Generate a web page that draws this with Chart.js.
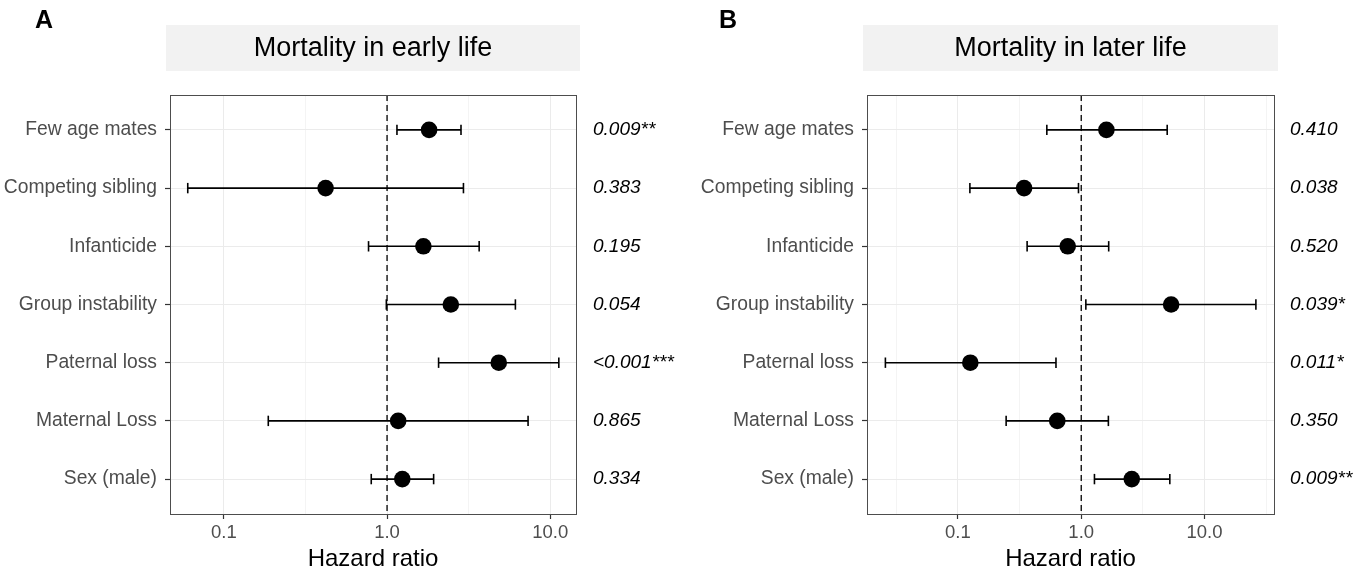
<!DOCTYPE html>
<html>
<head>
<meta charset="utf-8">
<script src="https://cdn.jsdelivr.net/npm/chart.js@4.4.1/dist/chart.umd.min.js"></script>
<style>
  html, body { margin: 0; padding: 0; background: #fff; }
  .panel { position: absolute; top: 0; width: 684px; height: 574px; }
</style>
</head>
<body>
<div class="panel" style="left:0"><canvas id="c-early" width="684" height="574"></canvas></div>
<div class="panel" style="left:684px"><canvas id="c-later" width="684" height="574"></canvas></div>
<script>
// forest plots — hazard ratios with 95% CI, log x axis

var CATS = ["Few age mates", "Competing sibling", "Infanticide", "Group instability",
            "Paternal loss", "Maternal Loss", "Sex (male)"];

var EARLY_HR = [1.81, 0.42,  1.67, 2.46, 4.84, 1.17,  1.24];
var EARLY_LO = [1.15, 0.060, 0.77, 0.99, 2.07, 0.187, 0.80];
var EARLY_HI = [2.84, 2.94,  3.67, 6.12, 11.3, 7.32,  1.93];
var EARLY_P  = ["0.009**", "0.383", "0.195", "0.054", "<0.001***", "0.865", "0.334"];

var LATER_HR = [1.60, 0.344, 0.777, 5.36, 0.126,  0.639, 2.57];
var LATER_LO = [0.526, 0.125, 0.364, 1.09, 0.0258, 0.246, 1.28];
var LATER_HI = [4.98, 0.95,  1.67,  26.1, 0.624,  1.66,  5.23];
var LATER_P  = ["0.410", "0.038", "0.520", "0.039*", "0.011*", "0.350", "0.009**"];

var X_MAJOR = [0.1, 1, 10];
var X_MINOR = [0.0316, 0.316, 3.16, 31.6];
var REF_HR = 1;

var FONT = "'Liberation Sans', Arial, Helvetica, sans-serif";

// ── decorations: strip header, panel letter, border, p-values ─────────────
var panelDeco = {
  id: "panelDeco",
  beforeDraw: function(chart) {
    var o = chart.options.plugins.panelDeco, a = chart.chartArea, ctx = chart.ctx;
    ctx.save();
    ctx.fillStyle = "#fff";
    ctx.fillRect(0, 0, chart.width, chart.height);
    ctx.fillStyle = "#f2f2f2";
    ctx.fillRect(a.left - 4, 25, a.right - a.left + 8, 46);
    ctx.fillStyle = "#000";
    ctx.font = "27px " + FONT;
    ctx.textAlign = "center"; ctx.textBaseline = "middle";
    ctx.fillText(o.title, (a.left + a.right) / 2, 49);
    ctx.font = "bold 25px " + FONT;
    ctx.textAlign = "left";
    ctx.fillText(o.letter, 35, 21);
    ctx.restore();
  },
  afterDraw: function(chart) {
    var o = chart.options.plugins.panelDeco, a = chart.chartArea, ctx = chart.ctx;
    var ys = chart.scales.y;
    ctx.save();
    ctx.strokeStyle = "#4d4d4d"; ctx.lineWidth = 1;
    ctx.strokeRect(Math.round(a.left) + 0.5, Math.round(a.top) + 0.5,
                   Math.round(a.right - a.left), Math.round(a.bottom - a.top));
    ctx.fillStyle = "#000";
    ctx.font = "italic 19px " + FONT;
    ctx.textAlign = "left"; ctx.textBaseline = "middle";
    o.pvals.forEach(function(p, i) {
      ctx.fillText(p, a.right + o.pGap, ys.getPixelForValue(i + 1));
    });
    ctx.restore();
  }
};

function makeForest(canvasId, opt) {
  var datasets = [];
  datasets.push({
    type: "scatter", order: 0,
    data: opt.hr.map(function(v, i) { return { x: v, y: i + 1 }; }),
    pointRadius: 8.3, pointBackgroundColor: "#000", pointBorderWidth: 0
  });
  opt.hr.forEach(function(v, i) {
    datasets.push({
      type: "line", order: 1, showLine: true,
      data: [{ x: opt.lo[i], y: i + 1 }, { x: opt.hi[i], y: i + 1 }],
      borderColor: "#000", borderWidth: 1.6,
      pointStyle: "line", pointRotation: 90, pointRadius: 5.2,
      pointBorderColor: "#000", pointBorderWidth: 1.6
    });
  });
  datasets.push({
    type: "line", order: 2, showLine: true,
    data: [{ x: REF_HR, y: 0.4 }, { x: REF_HR, y: 7.6 }],
    borderColor: "#000", borderWidth: 1.3, borderDash: [6, 4], pointRadius: 0
  });

  var ticks = X_MAJOR.map(function(v) { return { value: v, mj: true }; })
    .concat(X_MINOR.map(function(v) { return { value: v, mj: false }; }))
    .sort(function(a, b) { return a.value - b.value; });

  return new Chart(document.getElementById(canvasId).getContext("2d"), {
    type: "scatter",
    data: { datasets: datasets },
    plugins: [panelDeco],
    options: {
      responsive: false,
      animation: false,
      events: [],
      layout: { padding: { left: 0, top: 95, right: opt.padRight, bottom: 0 } },
      plugins: {
        legend: { display: false },
        tooltip: { enabled: false },
        panelDeco: { title: opt.title, letter: opt.letter, pvals: opt.pvals, pGap: opt.pGap }
      },
      scales: {
        x: {
          type: "logarithmic", bounds: "data",
          min: opt.xmin, max: opt.xmax,
          afterBuildTicks: function(s) {
            s.ticks = ticks.filter(function(t) { return t.value >= s.min && t.value <= s.max; })
              .map(function(t) { return { value: t.value, mj: t.mj }; });
          },
          afterFit: function(s) { s.height = 60; },
          border: { display: false },
          grid: {
            color: function(c) { return c.tick && c.tick.mj ? "#ebebeb" : "#f4f4f4"; },
            tickColor: function(c) { return c.tick && c.tick.mj ? "#333" : "rgba(0,0,0,0)"; },
            lineWidth: 1, tickLength: 5, tickWidth: 1.2
          },
          ticks: {
            autoSkip: false, maxRotation: 0, padding: 3,
            color: "#4d4d4d", font: { family: FONT, size: 18.5 },
            callback: function(v) { return X_MAJOR.indexOf(v) >= 0 ? v.toFixed(1) : ""; }
          },
          title: {
            display: true, text: "Hazard ratio", color: "#000",
            font: { family: FONT, size: 24 }, padding: { top: 0, bottom: 0 }
          }
        },
        y: {
          type: "linear", bounds: "data", reverse: true,
          min: 0.4, max: 7.6,
          afterBuildTicks: function(s) {
            s.ticks = CATS.map(function(c, i) { return { value: i + 1 }; });
          },
          afterFit: function(s) { s.width = opt.yWidth; },
          border: { display: false },
          grid: { color: "#ebebeb", lineWidth: 1, tickColor: "#333", tickLength: 5, tickWidth: 1.2 },
          ticks: {
            autoSkip: false, padding: 8,
            color: "#4d4d4d", font: { family: FONT, size: 19.3 },
            callback: function(v) { return CATS[v - 1]; }
          }
        }
      }
    }
  });
}

makeForest("c-early", {
  title: "Mortality in early life", letter: "A",
  hr: EARLY_HR, lo: EARLY_LO, hi: EARLY_HI, pvals: EARLY_P,
  xmin: 0.0467, xmax: 14.4, yWidth: 170, padRight: 108, pGap: 17
});
makeForest("c-later", {
  title: "Mortality in later life", letter: "B",
  hr: LATER_HR, lo: LATER_LO, hi: LATER_HI, pvals: LATER_P,
  xmin: 0.0183, xmax: 36.6, yWidth: 183, padRight: 94, pGap: 16
});
</script>
</body>
</html>
